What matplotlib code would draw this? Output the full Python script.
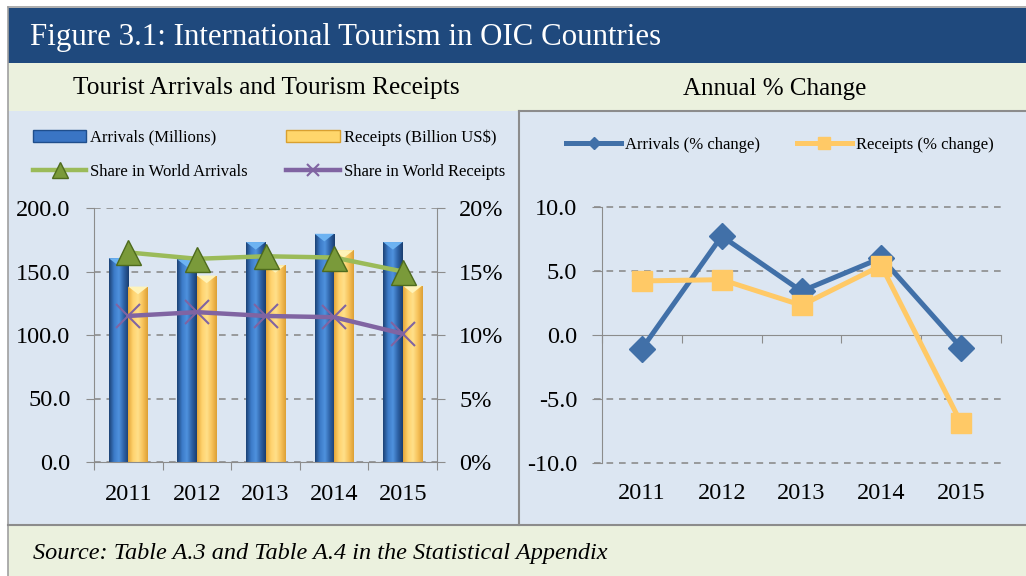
import matplotlib
matplotlib.use("Agg")
import matplotlib.pyplot as plt
from matplotlib.patches import Rectangle, Patch, Polygon
from matplotlib.lines import Line2D
from matplotlib.colors import LinearSegmentedColormap
import numpy as np

plt.rcParams["font.family"] = ["Liberation Serif", "DejaVu Serif"]

# data
years = ["2011", "2012", "2013", "2014", "2015"]
arrivals = [160.5, 159.5, 173.2, 179.7, 173.2]       # millions
receipts = [138.1, 146.8, 155.0, 166.8, 138.9]       # billion US$
share_arrivals = [16.5, 16.0, 16.2, 16.1, 15.0]      # %
share_receipts = [11.5, 11.8, 11.5, 11.4, 10.1]      # %
arrivals_chg = [-1.1, 7.7, 3.4, 6.0, -1.0]
receipts_chg = [4.2, 4.3, 2.3, 5.4, -6.9]

W, H = 1026, 576
fig = plt.figure(figsize=(W / 100, H / 100), dpi=100)


def fx(x):
    return x / W


def fy(y):
    return 1 - y / H


def band(x0, y0, x1, y1, color):
    fig.add_artist(Rectangle((fx(x0), fy(y1)), fx(x1) - fx(x0), fy(y0) - fy(y1),
                             transform=fig.transFigure, facecolor=color,
                             edgecolor="none", zorder=-10))


def hline(y, x0, x1, color="#A0A0A0", lw=1.2):
    fig.add_artist(Line2D([fx(x0), fx(x1)], [fy(y), fy(y)], transform=fig.transFigure,
                          color=color, lw=lw, zorder=-5))


def vline(x, y0, y1, color="#A0A0A0", lw=1.2):
    fig.add_artist(Line2D([fx(x), fx(x)], [fy(y0), fy(y1)], transform=fig.transFigure,
                          color=color, lw=lw, zorder=-5))


# frame and bands
band(8, 8, W, 63, "#1F497D")
band(8, 63, W, 111, "#EBF1DE")
band(8, 111, W, 525, "#DCE6F2")
band(8, 525, W, H, "#EBF1DE")
hline(7, 8, W)
vline(8, 7, H)
vline(519, 111, 525, color="#8C8C8C", lw=1.5)
hline(110.5, 519, W, color="#8C8C8C", lw=1.5)
hline(525, 8, W, color="#8C8C8C", lw=1.5)

fig.text(fx(30), fy(38), "Figure 3.1: International Tourism in OIC Countries",
         color="white", fontsize=22.2, va="center", ha="left")
fig.text(fx(266), fy(88), "Tourist Arrivals and Tourism Receipts",
         fontsize=18.3, va="center", ha="center")
fig.text(fx(775), fy(89), "Annual % Change", fontsize=18, va="center", ha="center")
fig.text(fx(33), fy(553), "Source: Table A.3 and Table A.4 in the Statistical Appendix",
         fontsize=17.5, style="italic", va="center", ha="left")

grid_col = "#8C8C8C"
axis_col = "#8C8C8C"
tick_fs = 17.5
x = np.arange(len(years))

# ---------------- left chart ----------------
ax = fig.add_axes([fx(94), fy(462), fx(437) - fx(94), fy(208) - fy(462)])
ax.set_facecolor("none")

blue_cmap = LinearSegmentedColormap.from_list("b", ["#1C4275", "#3C7BC8", "#4F92DE", "#2E62A6", "#1A3E70"])
yel_cmap = LinearSegmentedColormap.from_list("y", ["#E4A63A", "#FFD36E", "#FFE08A", "#F7C25A", "#DDA036"])
grad = np.linspace(0, 1, 64).reshape(1, -1)

bw = 0.285
for vals, off, cmap, cap in [(arrivals, -bw, blue_cmap, "#6DB3F2"),
                             (receipts, 0.0, yel_cmap, "#FFF3B8")]:
    bars = ax.bar(x + off, vals, width=bw, align="edge", color="none",
                  edgecolor="none", zorder=2)
    for b in bars:
        x0, w, h = b.get_x(), b.get_width(), b.get_height()
        im = ax.imshow(grad, extent=[x0, x0 + w, 0, h], aspect="auto", cmap=cmap,
                       zorder=2, origin="lower")
        im.set_clip_path(b)
        ax.add_patch(Polygon([[x0, h], [x0 + w, h], [x0 + w / 2, h - 6]],
                             closed=True, facecolor=cap, edgecolor="none", zorder=3))
ax.set_xlim(-0.5, 4.5)
ax.set_ylim(0, 200)

ax.set_yticks(np.arange(0, 201, 50))
ax.set_yticklabels([f"{v:.1f}" for v in np.arange(0, 201, 50)])
ax.set_xticks(np.arange(-0.5, 4.6, 1))
ax.set_xticklabels([])
ax.set_xticks(x, minor=True)
ax.set_xticklabels(years, minor=True)
ax.tick_params(axis="x", which="major", length=6, color=axis_col, direction="out")
ax.tick_params(axis="x", which="minor", length=0, pad=15.5, labelsize=tick_fs)
ax.tick_params(axis="y", length=6, color=axis_col, labelsize=tick_fs, pad=11)
for side in ["top", "right"]:
    ax.spines[side].set_visible(False)
for side in ["left", "bottom"]:
    ax.spines[side].set_color(axis_col)
ax.yaxis.grid(True, color=grid_col, linestyle=(0, (4, 3.5)), lw=1.2)
ax.set_axisbelow(True)

ax2 = ax.twinx()
ax2.set_ylim(0, 20)
ax2.set_yticks(np.arange(0, 21, 5))
ax2.set_yticklabels([f"{v}%" for v in range(0, 21, 5)])
ax2.tick_params(axis="y", length=6, color=axis_col, labelsize=tick_fs, pad=10)
for side in ["top", "left", "bottom"]:
    ax2.spines[side].set_visible(False)
ax2.spines["right"].set_color(axis_col)
ax2.plot(x, share_arrivals, color="#9BBB59", lw=3.2, marker="^", ms=18,
         mfc="#7A9A3A", mec="#4E6B1E", mew=1, zorder=5)
ax2.plot(x, share_receipts, color="#8064A2", lw=3.2, marker="x", ms=17,
         mew=1.5, mec="#8064A2", zorder=5)

left_handles = [
    Patch(facecolor="#3A75C4", edgecolor="#1F4E8C"),
    Line2D([], [], color="#9BBB59", lw=3.2, marker="^", ms=11, mfc="#7A9A3A", mec="#4E6B1E"),
    Patch(facecolor="#FFD66B", edgecolor="#D9A030"),
    Line2D([], [], color="#8064A2", lw=3.2, marker="x", ms=8, mew=1.5),
]
left_labels = ["Arrivals (Millions)", "Share in World Arrivals",
               "Receipts (Billion US$)", "Share in World Receipts"]
fig.legend(left_handles, left_labels, ncol=2, loc="upper left",
           bbox_to_anchor=(fx(33), fy(129)), frameon=False, fontsize=12,
           handlelength=3.2, handletextpad=0.25, columnspacing=2.3,
           labelspacing=1.13, borderpad=0, borderaxespad=0)

# ---------------- right chart ----------------
ax3 = fig.add_axes([fx(602), fy(462.7), fx(1001) - fx(602), fy(206.7) - fy(462.7)])
ax3.set_facecolor("none")
ax3.set_xlim(-0.5, 4.5)
ax3.set_ylim(-10, 10)
ax3.set_yticks(np.arange(-10, 11, 5))
ax3.set_yticklabels([f"{v:.1f}" for v in np.arange(-10, 11, 5)])
ax3.tick_params(axis="y", length=7, color=axis_col, labelsize=tick_fs, pad=11)
ax3.spines["bottom"].set_position(("data", 0))
ax3.spines["bottom"].set_color(axis_col)
ax3.spines["left"].set_color(axis_col)
for side in ["top", "right"]:
    ax3.spines[side].set_visible(False)
ax3.set_xticks(np.arange(-0.5, 4.6, 1))
ax3.set_xticklabels([])
ax3.tick_params(axis="x", length=6, color=axis_col, direction="out")
for i, yr in enumerate(years):
    ax3.text(i, -0.12, yr, transform=ax3.get_xaxis_transform(), ha="center",
             va="center", fontsize=tick_fs)
for v in [-10, -5, 5, 10]:
    ax3.axhline(v, color=grid_col, linestyle=(0, (4, 3.5)), lw=1.2, zorder=0,
                xmin=-0.02, clip_on=False)
ax3.plot(x, arrivals_chg, color="#4170A8", lw=3.6, marker="D", ms=13, zorder=4)
ax3.plot(x, receipts_chg, color="#FFC966", lw=3.6, marker="s", ms=14, zorder=5)

right_handles = [
    Line2D([], [], color="#4170A8", lw=3.6, marker="D", ms=6),
    Line2D([], [], color="#FFC966", lw=3.6, marker="s", ms=8),
]
fig.legend(right_handles, ["Arrivals (% change)", "Receipts (% change)"], ncol=2,
           loc="upper left", bbox_to_anchor=(fx(566), fy(137)), frameon=False,
           fontsize=12, handlelength=3.3, handletextpad=0.25, columnspacing=2.2,
           borderpad=0, borderaxespad=0)

fig.savefig("out.png", dpi=100)
